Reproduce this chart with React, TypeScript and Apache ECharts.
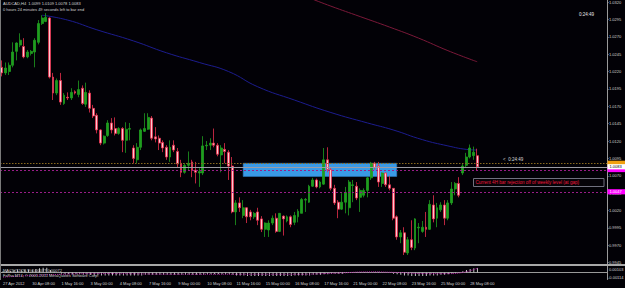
import React, { useEffect, useRef } from "react";
import * as echarts from "echarts";

// ---------- data ----------
const SLOTS = 166; // bar slots incl. right chart shift

const timeLabels = [
  "27 Apr 2012", "30 Apr 08:00", "1 May 16:00", "3 May 00:00", "4 May 08:00",
  "7 May 16:00", "9 May 00:00", "10 May 08:00", "11 May 16:00", "15 May 00:00",
  "16 May 08:00", "17 May 16:00", "21 May 00:00", "22 May 08:00", "23 May 16:00",
  "25 May 00:00", "28 May 08:00",
];

const priceTicks = [
  1.032, 1.0295, 1.027, 1.0245, 1.022, 1.0195, 1.017, 1.0145, 1.012, 1.0095,
  1.007, 1.0045, 1.002, 0.9995, 0.997, 0.9945,
];

// [open, close, low, high]
const candles: number[][] = [
  [1.0226, 1.0218, 1.0213, 1.0236], [1.0218, 1.0225, 1.0215, 1.0233], [1.022, 1.0229, 1.0215, 1.0233],
  [1.0229, 1.0248, 1.0226, 1.0262], [1.0249, 1.0261, 1.0236, 1.0262], [1.0258, 1.0265, 1.0255, 1.0275],
  [1.0256, 1.0241, 1.0239, 1.0268], [1.0241, 1.0248, 1.0239, 1.0251], [1.0246, 1.0249, 1.0243, 1.0251],
  [1.0248, 1.0265, 1.0226, 1.0268], [1.0262, 1.0289, 1.0259, 1.0294], [1.0289, 1.0297, 1.0287, 1.0301],
  [1.0292, 1.0298, 1.0291, 1.0304], [1.0297, 1.0212, 1.021, 1.0298], [1.0212, 1.0189, 1.0179, 1.0218],
  [1.0189, 1.0207, 1.0186, 1.021], [1.0207, 1.0176, 1.0172, 1.0218], [1.0174, 1.0186, 1.0172, 1.0189],
  [1.0183, 1.0182, 1.0179, 1.019], [1.0182, 1.019, 1.0179, 1.0196], [1.0191, 1.0189, 1.0187, 1.0193],
  [1.0187, 1.0194, 1.0183, 1.0207], [1.0196, 1.0174, 1.0172, 1.02], [1.0173, 1.019, 1.0169, 1.0204],
  [1.0189, 1.0167, 1.0161, 1.0193], [1.0167, 1.0156, 1.0153, 1.0172], [1.0157, 1.0136, 1.0131, 1.016],
  [1.0136, 1.0117, 1.0114, 1.0137], [1.0117, 1.0127, 1.0115, 1.0128], [1.0128, 1.0146, 1.0126, 1.015],
  [1.0146, 1.0136, 1.0131, 1.0153], [1.0138, 1.0131, 1.0128, 1.0154], [1.0131, 1.0138, 1.0129, 1.014],
  [1.0138, 1.0121, 1.0104, 1.014], [1.0121, 1.0137, 1.0103, 1.0147], [1.0137, 1.0138, 1.0121, 1.0146],
  [1.011, 1.0095, 1.0088, 1.0114], [1.0093, 1.0111, 1.0088, 1.0117], [1.0111, 1.0136, 1.0107, 1.0138],
  [1.0134, 1.0138, 1.0133, 1.016], [1.0137, 1.0154, 1.0136, 1.016], [1.0153, 1.0124, 1.0121, 1.0156],
  [1.0126, 1.0123, 1.0118, 1.014], [1.0124, 1.0117, 1.0107, 1.0128], [1.0118, 1.011, 1.0104, 1.0121],
  [1.0111, 1.0097, 1.0093, 1.0114], [1.0097, 1.0111, 1.009, 1.0121], [1.0114, 1.0107, 1.0104, 1.0121],
  [1.0105, 1.0087, 1.0082, 1.011], [1.0088, 1.0075, 1.0068, 1.0093], [1.0075, 1.0085, 1.0073, 1.0088],
  [1.0085, 1.0088, 1.0078, 1.0105], [1.009, 1.0078, 1.0068, 1.0093], [1.0078, 1.0075, 1.0059, 1.009],
  [1.0074, 1.0076, 1.0054, 1.0081], [1.0074, 1.0113, 1.0071, 1.0127], [1.0113, 1.0114, 1.0107, 1.012],
  [1.0114, 1.0117, 1.0107, 1.0124], [1.0117, 1.0114, 1.0111, 1.0138], [1.0114, 1.0101, 1.0098, 1.0117],
  [1.01, 1.011, 1.0075, 1.0114], [1.0108, 1.0105, 1.0088, 1.0117], [1.0104, 1.0084, 1.0064, 1.0107],
  [1.0084, 1.0018, 1.0016, 1.0097], [1.0018, 1.0031, 0.9999, 1.0035], [1.0031, 1.0024, 1.0018, 1.0039],
  [1.0013, 1.0024, 1.0009, 1.0035], [1.0024, 1.0011, 1.0002, 1.0025], [1.0018, 1.0011, 1.0006, 1.0021],
  [1.0011, 1.0016, 1.0008, 1.0018], [1.0018, 1.0006, 0.9999, 1.0024], [1.0008, 0.9993, 0.9989, 1.0012],
  [0.9993, 1.0002, 0.9982, 1.0003], [0.9992, 1.0002, 0.9982, 1.0006], [1.0002, 1.0009, 0.9999, 1.0013],
  [1.0009, 0.999, 0.9988, 1.0016], [0.999, 1.0016, 0.9989, 1.0016], [1.0012, 1.0008, 0.9984, 1.0013],
  [1.0005, 1.0011, 1.0003, 1.0013], [1.0011, 1.0, 0.9996, 1.0013], [1.0003, 1.0013, 0.9999, 1.0018],
  [1.0011, 1.0019, 1.0003, 1.0022], [1.0016, 1.0036, 1.0016, 1.0038], [1.0035, 1.0036, 1.0018, 1.0038],
  [1.0032, 1.0055, 1.0031, 1.0057], [1.0055, 1.0064, 1.0054, 1.0067], [1.0064, 1.0054, 1.0052, 1.0066],
  [1.0054, 1.0061, 1.0052, 1.0063], [1.0058, 1.0093, 1.0057, 1.011], [1.0093, 1.0079, 1.0075, 1.0111],
  [1.0079, 1.0052, 1.0049, 1.0082], [1.0052, 1.0031, 1.0028, 1.0057], [1.0032, 1.0022, 1.0009, 1.0035],
  [1.0022, 1.0032, 1.0021, 1.0045], [1.0032, 1.0046, 1.0016, 1.0054], [1.0024, 1.0061, 1.0013, 1.0064],
  [1.0056, 1.0057, 1.0032, 1.0064], [1.0055, 1.0038, 1.0035, 1.0061], [1.0039, 1.0049, 1.0018, 1.0052],
  [1.0042, 1.0049, 1.0039, 1.0052], [1.0049, 1.0067, 1.0039, 1.0068], [1.0067, 1.0088, 1.0064, 1.009],
  [1.0088, 1.0082, 1.0079, 1.009], [1.0084, 1.0061, 1.0054, 1.009], [1.0059, 1.0074, 1.0054, 1.0075],
  [1.0074, 1.0057, 1.0054, 1.0075], [1.0057, 1.0052, 1.0049, 1.007], [1.0052, 1.0009, 1.0006, 1.0052],
  [1.0011, 0.9982, 0.9978, 1.0013], [0.9982, 0.9988, 0.9973, 0.9992], [0.9988, 0.996, 0.9956, 0.9996],
  [0.9959, 0.9978, 0.9956, 0.9982], [0.9978, 0.9967, 0.9963, 1.0006], [0.9966, 1.0008, 0.9963, 1.0009],
  [0.9995, 0.9996, 0.9973, 1.0002], [0.999, 0.9996, 0.9988, 1.0005], [0.9996, 0.9993, 0.9982, 1.0018],
  [0.9993, 1.0029, 0.9992, 1.0035], [1.0028, 1.0008, 1.0003, 1.0042], [1.0009, 1.0024, 0.9996, 1.0031],
  [1.0021, 1.0028, 1.0018, 1.0032], [1.0028, 1.0009, 0.9999, 1.0035], [1.0009, 1.0031, 1.0006, 1.0035],
  [1.0031, 1.0051, 1.0028, 1.0061], [1.0051, 1.0059, 1.0042, 1.0061], [1.0059, 1.0042, 1.0039, 1.0068],
  [1.0074, 1.0084, 1.0071, 1.0088], [1.0085, 1.0097, 1.0082, 1.0103], [1.0097, 1.011, 1.0095, 1.0115],
  [1.0099, 1.0104, 1.0093, 1.0112], [1.0099, 1.0083, 1.0078, 1.0109],
];

// moving averages: [bar index, value]
const blueMA: number[][] = [
  [11, 1.0301], [18, 1.0294], [26, 1.028], [36, 1.0264], [45, 1.0247], [54, 1.0233],
  [62, 1.022], [70, 1.0198], [80, 1.0179], [90, 1.0161], [100, 1.0146], [107, 1.0136],
  [115, 1.0122], [122, 1.0113], [127, 1.0108], [130, 1.0107],
];
const maroonMA: number[][] = [
  [85, 1.0324], [90, 1.0314], [98, 1.0299], [106, 1.0284], [114, 1.0268], [122, 1.025], [130, 1.0234],
];

// MACD main (histogram) and signal
const macdMain = [
  0.0002, 0.0002, 0.0003, 0.0004, 0.0005, 0.0005, 0.0005, 0.0005, 0.0005, 0.0006,
  0.0007, 0.0008, 0.0008, 0.0004, 0.0001, 0.0, -0.0002, -0.0003, -0.0003, -0.0003,
  -0.0003, -0.0003, -0.0004, -0.0004, -0.0004, -0.0005, -0.0005, -0.0005, -0.0005, -0.0005,
  -0.0005, -0.0005, -0.0005, -0.0005, -0.0005, -0.0005, -0.0005, -0.0005, -0.0005, -0.0004,
  -0.0004, -0.0004, -0.0004, -0.0004, -0.0004, -0.0004, -0.0004, -0.0004, -0.0004, -0.0004,
  -0.0004, -0.0004, -0.0004, -0.0004, -0.0004, -0.0004, -0.0003, -0.0003, -0.0003, -0.0003,
  -0.0003, -0.0003, -0.0003, -0.0004, -0.0005, -0.0005, -0.0005, -0.0006, -0.0006, -0.0006,
  -0.0006, -0.0006, -0.0006, -0.0006, -0.0006, -0.0006, -0.0006, -0.0006, -0.0006, -0.0006,
  -0.0005, -0.0005, -0.0005, -0.0005, -0.0005, -0.0004, -0.0004, -0.0004, -0.0003, -0.0003,
  -0.0002, -0.0002, -0.0002, -0.0002, -0.0001, -0.0001, -0.0001, -0.0001, -0.0001, -0.0001,
  -0.0001, 0.0, 0.0001, 0.0001, 0.0, 0.0, 0.0, -0.0002, -0.0003, -0.0004,
  -0.0005, -0.0005, -0.0006, -0.0006, -0.0006, -0.0006, -0.0006, -0.0005, -0.0005, -0.0005,
  -0.0004, -0.0004, -0.0003, -0.0002, -0.0001, -0.0001, 0.0002, 0.0004, 0.0006, 0.0007, 0.00077,
];
const macdSignal: number[][] = [
  [0, -0.0008], [12, -0.0004], [27, -0.0002], [50, -0.0003], [80, -0.0003], [92, -0.0001],
  [100, 0.0001], [108, 0.0], [116, -0.0002], [122, -0.0002], [126, 0.0], [130, 0.00072],
];

const zone = { start: 66, end: 108, top: 1.0088, bottom: 1.0069 };
// horizontal levels (drawn in this order; later boxes cover earlier ones)
const levelValues = [1.0088, 1.0079, 1.0047, 1.0083];
const levelLineColors = ["#8a6a1e", "#9a1c88", "#9a1c88", "#9c9ca4"];
const levelDash: (number[] | null)[] = [[1.5, 1.5], [2, 2], [2, 2], null];
const levelBoxFill = ["#f0a010", "#ff00ff", "#ff00ff", "#ffffff"];
const levelBoxText = ["#000000", "#ffffff", "#ffffff", "#000000"];
const levelShowText = [false, false, true, true]; // covered boxes show only a colour strip

// ---------- component ----------
export default function App() {
  const ref = useRef<HTMLDivElement>(null);

  useEffect(() => {
    const el = ref.current!;
    const chart = echarts.init(el, null, { renderer: "svg" });
    const font = "'Liberation Sans', Arial, sans-serif";
    const txt = "#d4d4d4";
    const cats = Array.from({ length: SLOTS }, (_, i) => String(i));

    const option: any = {
      animation: false,
      backgroundColor: "#020106",
      grid: [
        { left: 0, right: 18, top: 0, height: 264 },
        { left: 0, right: 18, top: 266, height: 13.5 },
      ],
      xAxis: [
        {
          type: "category", gridIndex: 0, data: cats, boundaryGap: true,
          axisLine: { show: false }, axisTick: { show: false }, axisLabel: { show: false },
          splitLine: { show: false },
        },
        {
          type: "category", gridIndex: 1, data: cats, boundaryGap: true,
          axisLine: { show: true, lineStyle: { color: "#9a9a9a", width: 1 } },
          axisTick: { show: false },
          splitLine: { show: false },
          axisLabel: {
            interval: (i: number) => i % 8 === 0 && i / 8 < timeLabels.length,
            formatter: (_v: string, i: number) => timeLabels[i / 8] ?? "",
            align: "left",
            fontSize: 4,
            fontFamily: font,
            color: txt,
            margin: 2,
          },
        },
      ],
      yAxis: [
        {
          type: "value", gridIndex: 0, position: "right",
          min: 0.99431, max: 1.03224,
          splitLine: { show: false },
          axisLine: { show: true, lineStyle: { color: "#9a9a9a" } },
          axisTick: { show: true, customValues: priceTicks, length: 1.5, lineStyle: { color: "#9a9a9a" } },
          axisLabel: {
            customValues: priceTicks,
            formatter: (v: number) => v.toFixed(4),
            fontSize: 4, fontFamily: font, color: txt, margin: 2,
          },
        },
        {
          type: "value", gridIndex: 1, position: "right",
          min: -0.0012, max: 0.0011,
          splitLine: { show: false },
          axisLine: { show: true, lineStyle: { color: "#9a9a9a" } },
          axisTick: { show: false }, axisLabel: { show: false },
        },
      ],
      series: [
        {
          type: "line", name: "MA slow", xAxisIndex: 0, yAxisIndex: 0, data: maroonMA,
          showSymbol: false, smooth: true, lineStyle: { color: "#7a1838", width: 1 }, z: 1,
          markArea: {
            silent: true, z: 1,
            itemStyle: { color: "#3a9ae6", borderColor: "#2a78c0", borderWidth: 0.6 },
            data: [[{ xAxis: zone.start, yAxis: zone.top }, { xAxis: zone.end, yAxis: zone.bottom }]],
          },
        },
        {
          type: "line", name: "MA", xAxisIndex: 0, yAxisIndex: 0, data: blueMA,
          showSymbol: false, smooth: true, lineStyle: { color: "#1c1c8e", width: 1 }, z: 1,
        },
        {
          type: "candlestick", name: "AUDCAD,H4", xAxisIndex: 0, yAxisIndex: 0,
          data: candles, barWidth: 2.4, z: 3,
          itemStyle: {
            color: "#1f9d1f", borderColor: "#1f9d1f",
            color0: "#ffc6cf", borderColor0: "#e8304c", borderWidth: 0.8,
          },
        },
        {
          type: "bar", name: "MACD", xAxisIndex: 1, yAxisIndex: 1, data: macdMain,
          barWidth: 1, itemStyle: { color: "#c4c4c4" },
        },
        {
          type: "line", name: "Signal", xAxisIndex: 1, yAxisIndex: 1, data: macdSignal,
          showSymbol: false, smooth: true, lineStyle: { color: "#b01ca0", width: 1, type: [1, 1] },
        },
      ],
    };

    chart.setOption(option);

    // horizontal levels placed through the price axis scale
    const levelGraphics: any[] = [];
    levelValues.forEach((v, i) => {
      const y = chart.convertToPixel({ yAxisIndex: 0 }, v) as number;
      const yy = Math.round(y) + 0.5;
      levelGraphics.push({
        type: "line", z: 20,
        shape: { x1: 0, y1: yy, x2: 607, y2: yy },
        style: { stroke: levelLineColors[i], lineWidth: 1, lineDash: levelDash[i] || undefined },
      });
      levelGraphics.push({
        type: "rect", z: 60 + i,
        shape: { x: 607.5, y: y - 2.6, width: 17.5, height: 5.2 },
        style: { fill: levelBoxFill[i] },
      });
      if (levelShowText[i]) {
        levelGraphics.push({
          type: "text", z: 60 + i, x: 609.5, y: y,
          style: { text: v.toFixed(4), fill: levelBoxText[i], fontSize: 4, fontFamily: font, verticalAlign: "middle" },
        });
      }
    });

    chart.setOption({
      graphic: [
        ...levelGraphics,
        { type: "rect", shape: { x: 0, y: 264, width: 625, height: 2 }, style: { fill: "#a8a8a8" }, z: 50 },
        { type: "line", shape: { x1: 0.5, y1: 0, x2: 0.5, y2: 280 }, style: { stroke: "#7a7a7a", lineWidth: 1 }, z: 50 },
        { type: "text", x: 3, y: 3, style: { text: "AUDCAD,H4  1.0099 1.0109 1.0078 1.0083", fill: txt, fontSize: 4, fontFamily: font, verticalAlign: "middle" }, z: 50 },
        { type: "text", x: 3, y: 9, style: { text: "0 hours 24 minutes 49 seconds left to bar end", fill: txt, fontSize: 4, fontFamily: font, verticalAlign: "middle" }, z: 50 },
        { type: "text", x: 579, y: 14.5, style: { text: "0:24:49", fill: "#e8e8e8", fontSize: 4.5, fontFamily: font, verticalAlign: "middle" }, z: 50 },
        { type: "text", x: 503, y: 159, style: { text: "<  0:24:49", fill: "#d8d8d8", fontSize: 4.5, fontFamily: font, verticalAlign: "middle" }, z: 50 },
        { type: "rect", shape: { x: 473.5, y: 178.5, width: 130.5, height: 8 }, style: { fill: "#050308", stroke: "#70707e", lineWidth: 1 }, z: 50 },
        { type: "text", x: 475.5, y: 182.6, style: { text: "Current 4H bar rejection off of weekly level (at gap)", fill: "#f0183c", fontSize: 4.6, fontFamily: font, verticalAlign: "middle" }, z: 51 },
        { type: "text", x: 3, y: 270.5, style: { text: "MACD(12,26,9) 0.00077 0.00072", fill: txt, fontSize: 4, fontFamily: font, verticalAlign: "middle" }, z: 50 },
        { type: "text", x: 3, y: 275, style: { text: "FxPro MT4, © 2001-2011 MetaQuotes Software Corp.", fill: txt, fontSize: 4, fontFamily: font, verticalAlign: "middle" }, z: 50 },
        { type: "text", x: 609, y: 269, style: { text: "0.00103", fill: txt, fontSize: 4, fontFamily: font, verticalAlign: "middle" }, z: 50 },
        { type: "text", x: 608, y: 277, style: { text: "-0.00114", fill: txt, fontSize: 4, fontFamily: font, verticalAlign: "middle" }, z: 50 },
      ],
    });

    return () => chart.dispose();
  }, []);

  return (
    <div
      ref={ref}
      style={{ position: "fixed", left: 0, top: 0, width: 625, height: 288, background: "#020106" }}
    />
  );
}
